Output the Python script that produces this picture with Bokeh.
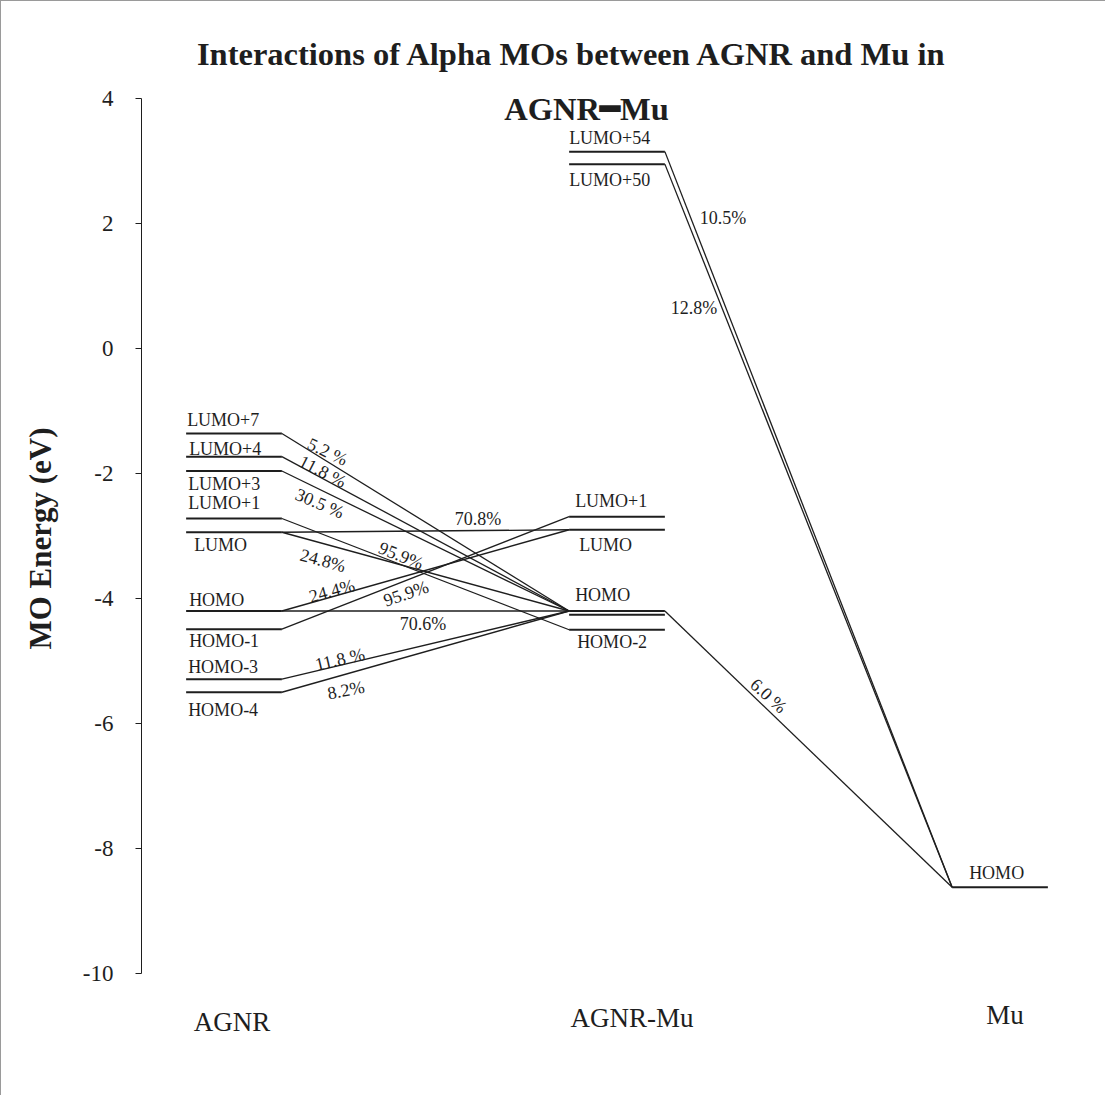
import math
from bokeh.plotting import figure
from bokeh.models import Range1d, FixedTicker
from bokeh.core.properties import value
from bokeh.embed import file_html
from bokeh.resources import INLINE

# ---------------- data ----------------
columns = ["AGNR", "AGNR-Mu", "Mu"]
column_pos = [1, 2, 3]

agnr_names = ["LUMO+7", "LUMO+4", "LUMO+3", "LUMO+1", "LUMO", "HOMO", "HOMO-1", "HOMO-3", "HOMO-4"]
agnr_energy = [-1.36, -1.73, -1.96, -2.72, -2.94, -4.20, -4.49, -5.29, -5.50]

cplx_names = ["LUMO+54", "LUMO+50", "LUMO+1", "LUMO", "HOMO", "HOMO-1", "HOMO-2"]
cplx_energy = [3.15, 2.95, -2.69, -2.90, -4.20, -4.26, -4.50]
cplx_labelled = [True, True, True, True, True, False, True]

mu_names = ["HOMO"]
mu_energy = [-8.62]

# connections: (column a, orbital a, column b, orbital b, contribution)
links = [
    ("AGNR", "LUMO+7", "AGNR-Mu", "HOMO", "5.2 %"),
    ("AGNR", "LUMO+4", "AGNR-Mu", "HOMO", "11.8 %"),
    ("AGNR", "LUMO+3", "AGNR-Mu", "HOMO", "30.5 %"),
    ("AGNR", "LUMO+1", "AGNR-Mu", "HOMO-2", "95.9%"),
    ("AGNR", "LUMO", "AGNR-Mu", "LUMO", "70.8%"),
    ("AGNR", "LUMO", "AGNR-Mu", "HOMO", "24.8%"),
    ("AGNR", "HOMO", "AGNR-Mu", "LUMO", "24.4%"),
    ("AGNR", "HOMO-1", "AGNR-Mu", "LUMO+1", "95.9%"),
    ("AGNR", "HOMO", "AGNR-Mu", "HOMO", "70.6%"),
    ("AGNR", "HOMO-3", "AGNR-Mu", "HOMO", "11.8 %"),
    ("AGNR", "HOMO-4", "AGNR-Mu", "HOMO", "8.2%"),
    ("AGNR-Mu", "LUMO+54", "Mu", "HOMO", "10.5%"),
    ("AGNR-Mu", "LUMO+50", "Mu", "HOMO", "12.8%"),
    ("AGNR-Mu", "HOMO", "Mu", "HOMO", "6.0 %"),
]

y_ticks = [-10, -8, -6, -4, -2, 0, 2, 4]
y_tick_labels = ["-10", "-8", "-6", "-4", "-2", "0", "2", "4"]
y_axis_title = "MO Energy (eV)"
title_lines = ["Interactions of Alpha MOs between AGNR and Mu in", "AGNR\u2501Mu"]

# ---------------- styling / placement ----------------
# percent labels: (fraction along link, x offset px, y offset px, angle deg)
link_label_style = [
    (0.159, 0, -10, -25), (0.142, 0, -7, -27), (0.132, 0, 14, -23),
    (0.415, 0, -9, -22), (0.683, 0, -12, 0), (0.143, 0, 17, -15),
    (0.174, 0, -6, 15), (0.432, 0, 13, 19), (0.491, 0, 13, 0),
    (0.202, 0, -6, 13), (0.223, 0, 16, 11),
    (0.0906, 32, 0, 0), (0.199, -28, 0, 0), (0.361, 0, -15, -42),
]
# level label offsets (x px from level start, text centre px from level line)
agnr_label_off = [(1, -13.5), (3, -7.5), (2, 12.5), (2, -15.5), (8, 12.5), (3, -11.5), (3, 11.5), (2, -12.5), (2, 17.5)]
cplx_label_off = [(0, -13.5), (0, 15.5), (6, -15.5), (10, 15.5), (6, -16), (0, 0), (8, 12)]
mu_label_off = [(17, -14.5)]
column_label_off = [(-2, 1020), (15, 1016), (5, 1013)]   # x px offset, centre row px

PX_X = 383.0      # pixels per column step
PX_Y = 62.5       # pixels per eV
HW = 0.125        # level half width (columns)
INK = "#1e1e1e"
SERIF = "Liberation Serif"

W, H = 1105, 1095
AXIS_PX, TOP_PX, BOT_PX, RIGHT_PX = 140, 20, 1054, 1100
Y4_PX = 97        # pixel row of the "4" tick


def px_to_x(v):
    return 1 + (v - 232.5) / PX_X


def py_to_y(v):
    return 4 - (v - Y4_PX) / PX_Y


p = figure(width=W, height=H, output_backend="svg", toolbar_location=None,
           x_range=Range1d(px_to_x(AXIS_PX), px_to_x(RIGHT_PX)),
           y_range=Range1d(py_to_y(BOT_PX), py_to_y(TOP_PX)),
           min_border_left=AXIS_PX, min_border_right=W - RIGHT_PX,
           min_border_top=TOP_PX, min_border_bottom=H - BOT_PX)
p.outline_line_color = None
p.grid.visible = False
p.background_fill_color = "white"
p.border_fill_color = "white"
p.xaxis.visible = False
p.styles = {"border-left": "1px solid #9a9a9a", "border-top": "1px solid #9a9a9a"}

# y axis
ya = p.yaxis[0]
ya.ticker = FixedTicker(ticks=y_ticks)
ya.major_label_overrides = {t: s for t, s in zip(y_ticks, y_tick_labels)}
ya.bounds = (min(y_ticks), max(y_ticks))
ya.minor_tick_line_color = None
ya.major_tick_in = 0
ya.major_tick_out = 6
ya.axis_line_color = INK
ya.major_tick_line_color = INK
ya.major_label_text_font = SERIF
ya.major_label_text_font_size = "23px"
ya.major_label_text_color = INK
ya.major_label_standoff = 22
ya.axis_label = y_axis_title
ya.axis_label_text_font = SERIF
ya.axis_label_text_font_style = "bold"
ya.axis_label_text_font_size = "31px"
ya.axis_label_text_color = INK
ya.axis_label_standoff = 22

# levels
cols = {
    "AGNR": (1, agnr_names, agnr_energy, [True] * len(agnr_names), agnr_label_off),
    "AGNR-Mu": (2, cplx_names, cplx_energy, cplx_labelled, cplx_label_off),
    "Mu": (3, mu_names, mu_energy, [True], mu_label_off),
}
lx0, lx1, ly, tx, ty, tt, tdx, tdy = [], [], [], [], [], [], [], []
for key, (cx, names, energies, shown, offs) in cols.items():
    for n, e, s, (dx, dy) in zip(names, energies, shown, offs):
        lx0.append(cx - HW); lx1.append(cx + HW); ly.append(e)
        if s:
            tx.append(cx - HW); ty.append(e); tt.append(n); tdx.append(dx); tdy.append(dy)

p.segment(x0=lx0, y0=ly, x1=lx1, y1=ly, line_color=INK, line_width=2)
p.text(x=tx, y=ty, text=tt, x_offset=tdx, y_offset=tdy,
       text_font=value(SERIF), text_font_size="18px", text_color=INK,
       text_align="left", text_baseline="middle")


def energy(col, name):
    cx, names, energies, _, _ = cols[col]
    return cx, energies[names.index(name)]


sx0, sy0, sx1, sy1 = [], [], [], []
px, py, ptxt, pdx, pdy, pang = [], [], [], [], [], []
for (ca, na, cb, nb, pct), (t, dx, dy, ang) in zip(links, link_label_style):
    xa_, ea = energy(ca, na)
    xb_, eb = energy(cb, nb)
    ax, bx = xa_ + HW, xb_ - HW
    sx0.append(ax); sy0.append(ea); sx1.append(bx); sy1.append(eb)
    px.append(ax + t * (bx - ax)); py.append(ea + t * (eb - ea))
    ptxt.append(pct); pdx.append(dx); pdy.append(dy); pang.append(math.radians(ang))

p.segment(x0=sx0, y0=sy0, x1=sx1, y1=sy1, line_color=INK, line_width=1.3)
p.text(x=px, y=py, text=ptxt, x_offset=pdx, y_offset=pdy, angle=pang,
       text_font=value(SERIF), text_font_size="18px", text_color=INK,
       text_align="center", text_baseline="middle")

# column names under the diagram
p.text(x=column_pos, y=[py_to_y(b) for _, b in column_label_off], text=columns,
       x_offset=[d for d, _ in column_label_off],
       text_font=value(SERIF), text_font_size="27px", text_color=INK,
       text_align="center", text_baseline="middle")

# title (two lines, inside the top of the frame)
title_cx = [571, 585]
title_mid = [52, 107]
p.text(x=[px_to_x(v) for v in title_cx], y=[py_to_y(v) for v in title_mid], text=title_lines,
       text_font=value(SERIF), text_font_style="bold", text_font_size="32.5px", text_color=INK,
       text_align="center", text_baseline="middle")

open("out.html", "w").write(file_html(p, INLINE))
